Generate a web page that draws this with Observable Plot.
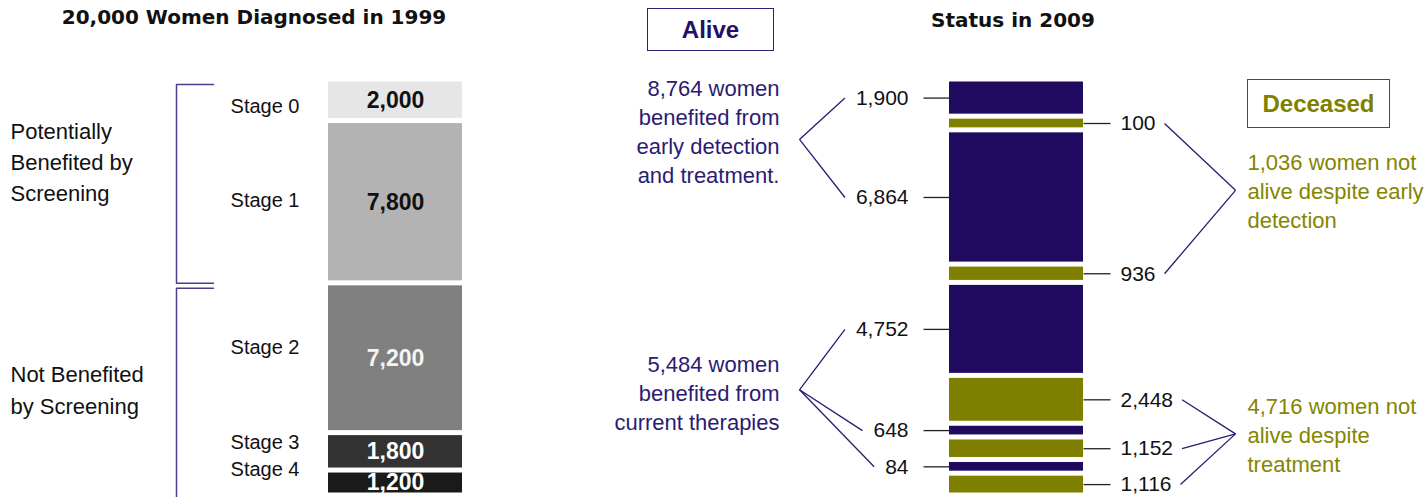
<!DOCTYPE html>
<html><head><meta charset="utf-8">
<script src="https://cdn.jsdelivr.net/npm/d3@7"></script>
<script src="https://cdn.jsdelivr.net/npm/@observablehq/plot@0.6"></script>
<style>
body{margin:0;background:#fff;}
#chart{position:relative;width:1428px;height:497px;overflow:hidden;font-family:"Liberation Sans",Arial,sans-serif;background:#fff;}
#chart svg{position:absolute;left:0;top:0;}
.title{position:absolute;font-family:"DejaVu Sans",sans-serif;font-weight:bold;font-size:20px;color:#111;white-space:nowrap;transform:translate(-50%,-50%);}
.box{position:absolute;box-sizing:border-box;display:flex;align-items:center;justify-content:center;font-family:"Liberation Sans",Arial,sans-serif;font-weight:bold;font-size:24px;background:#fff;}
</style></head><body><div id="chart"></div>
<script>
// ---------------- data ----------------
const stages = ["Stage 0", "Stage 1", "Stage 2", "Stage 3", "Stage 4"];
const diagnosed1999 = [2000, 7800, 7200, 1800, 1200];
const stageGroup = [0, 0, 1, 1, 1];
const groupNames = ["Potentially\nBenefited by\nScreening", "Not Benefited\nby Screening"];
const segmentStage = [0, 0, 1, 1, 2, 2, 3, 3, 4, 4];
const status2009 = ["Alive", "Deceased", "Alive", "Deceased", "Alive", "Deceased", "Alive", "Deceased", "Alive", "Deceased"];
const women2009 = [1900, 100, 6864, 936, 4752, 2448, 648, 1152, 84, 1116];
const statusNames = ["Alive", "Deceased"];
const aliveNotes = ["{n} women\nbenefited from\nearly detection\nand treatment.", "{n} women\nbenefited from\ncurrent therapies"];
const deceasedNotes = ["{n} women not\nalive despite early\ndetection", "{n} women not\nalive despite\ntreatment"];
const titleTexts = ["{n} Women Diagnosed in 1999", "Status in 2009"];

// ---------------- layout & style ----------------
const W = 1428, H = 497;
const stageFill = ["#e6e6e6", "#b3b3b3", "#808080", "#333333", "#1a1a1a"];
const stageInk = ["#111", "#111", "#f4f4f4", "#fff", "#fff"];
const statusFill = {Alive: "#200a60", Deceased: "#808000"};
const noteInk = {Alive: "#2b1b72", Deceased: "#858500"};
const LINK = "#2a1a72";
const BAR1 = {x1: 328, x2: 462}, BAR2 = {x1: 949, x2: 1083};
const MIN_SHOWN = 700;      // minimum visible share so tiny segments remain readable
const APEX_SHIFT = 0.02;
const GROUP_DY = [-24, -4];
const STAGE_DY = [6, -2, -11, -9, -13];
const NOTE_DY = {Alive: [-9, 2], Deceased: [-1, 0]};
const fmt = d3.format(",");

function stack(values) {
  const shown = values.map(v => Math.max(v, MIN_SHOWN));
  const total = d3.sum(shown);
  let acc = 0;
  return values.map((v, i) => {
    const y1 = acc / total; acc += shown[i]; const y2 = acc / total;
    return {i, value: v, y1, y2, ym: (y1 + y2) / 2};
  });
}

const left = stack(diagnosed1999).map(d => ({...d, stage: stages[d.i], group: stageGroup[d.i], fill: stageFill[d.i], ink: stageInk[d.i]}));
const right = stack(women2009).map(d => ({...d, status: status2009[d.i], group: stageGroup[segmentStage[d.i]], fill: statusFill[status2009[d.i]]}));
const alive = right.filter(d => d.status === "Alive");
const dead = right.filter(d => d.status === "Deceased");

const ctx = document.createElement("canvas").getContext("2d");
ctx.font = '21px "Liberation Sans"';
const tw = s => ctx.measureText(s).width;

// brackets and group labels
const groups = groupNames.map((name, g) => {
  const segs = left.filter(d => d.group === g);
  return {g, name, top: segs[0].y1 + 0.012, bottom: segs[segs.length - 1].y2 + (g === 1 ? 0.02 : 0)};
});
const bracketPts = groups.flatMap(b => [
  {g: b.g, x: 213, y: b.top}, {g: b.g, x: 176, y: b.top},
  {g: b.g, x: 176, y: b.bottom}, {g: b.g, x: 213, y: b.bottom}
]);

// connectors and notes
const links = [], notes = [];
for (const s of statusNames) {
  for (const g of [0, 1]) {
    const segs = right.filter(d => d.status === s && d.group === g);
    const ys = segs.map(d => d.ym);
    const apexY = (d3.min(ys) + d3.max(ys)) / 2 - APEX_SHIFT;
    const apexX = s === "Alive" ? 799 : 1235;
    for (const d of segs) {
      const lab = fmt(d.value);
      const ex = s === "Alive" ? 908 - tw(lab) - 11 : 1120 + tw(lab) + 9;
      links.push({x1: ex, y1: d.ym, x2: apexX, y2: apexY});
    }
    const n = d3.sum(segs, d => d.value);
    const tpl = (s === "Alive" ? aliveNotes : deceasedNotes)[g];
    notes.push({
      status: s, g, x: s === "Alive" ? apexX - 20 : apexX + 12, y: apexY,
      text: tpl.replace("{n}", fmt(n)), anchor: s === "Alive" ? "end" : "start"
    });
  }
}

const marks = [
  Plot.rect(left, {x1: BAR1.x1, x2: BAR1.x2, y1: "y1", y2: "y2", fill: d => d.fill, insetTop: 2.5, insetBottom: 2.5}),
  Plot.text(left, {x: (BAR1.x1 + BAR1.x2) / 2, y: "ym", text: d => fmt(d.value), fill: d => d.ink, fontSize: 23, fontWeight: "bold"}),
  ...left.map(d => Plot.text([d], {x: 299, y: "ym", text: "stage", textAnchor: "end", fontSize: 20, fill: "#111", dy: STAGE_DY[d.i]})),
  Plot.line(bracketPts, {x: "x", y: "y", z: "g", stroke: "#4b3d8f", strokeWidth: 1.5}),
  ...groups.map(b => Plot.text([b], {x: 10, y: d => (d.top + Math.min(d.bottom, 1)) / 2, text: "name", textAnchor: "start", fontSize: 22, lineHeight: 1.42, fill: "#111", dy: GROUP_DY[b.g]})),
  Plot.rect(right, {x1: BAR2.x1, x2: BAR2.x2, y1: "y1", y2: "y2", fill: d => d.fill, insetTop: 2.5, insetBottom: 2.5}),
  Plot.link(alive, {x1: 923, x2: BAR2.x1, y1: "ym", y2: "ym", stroke: "#222", strokeWidth: 1.3}),
  Plot.link(dead, {x1: BAR2.x2, x2: 1110, y1: "ym", y2: "ym", stroke: "#222", strokeWidth: 1.3}),
  Plot.text(alive, {x: 908, y: "ym", text: d => fmt(d.value), textAnchor: "end", fontSize: 21, fill: "#111"}),
  Plot.text(dead, {x: 1120, y: "ym", text: d => fmt(d.value), textAnchor: "start", fontSize: 21, fill: "#111"}),
  Plot.link(links, {x1: "x1", y1: "y1", x2: "x2", y2: "y2", stroke: LINK, strokeWidth: 1.3}),
  ...notes.map(n => Plot.text([n], {x: "x", y: "y", text: "text", textAnchor: n.anchor, fill: noteInk[n.status], fontSize: 22, lineHeight: 1.32, dy: NOTE_DY[n.status][n.g]}))
];

const plot = Plot.plot({
  width: W, height: H, margin: 0,
  x: {type: "linear", domain: [0, W], range: [0, W], axis: null},
  y: {type: "linear", domain: [0, 1], range: [79, 495], axis: null},
  color: {type: "identity"},
  style: {fontFamily: '"Liberation Sans", Arial, sans-serif', background: "transparent", overflow: "visible"},
  marks
});

const chart = document.getElementById("chart");
chart.appendChild(plot);

// titles
const t1 = document.createElement("div");
t1.className = "title"; t1.textContent = titleTexts[0].replace("{n}", fmt(d3.sum(diagnosed1999)));
t1.style.left = "254px"; t1.style.top = "17px";
chart.appendChild(t1);
const t2 = document.createElement("div");
t2.className = "title"; t2.textContent = titleTexts[1];
t2.style.left = "1013px"; t2.style.top = "20px";
chart.appendChild(t2);

// legend boxes
const boxes = [
  {name: statusNames[0], left: 647, top: 8, w: 127, h: 43, border: "#2e1f78", ink: "#221166"},
  {name: statusNames[1], left: 1247, top: 79, w: 143, h: 49, border: "#4a3f8c", ink: "#7f7f00"}
];
for (const b of boxes) {
  const el = document.createElement("div");
  el.className = "box"; el.textContent = b.name;
  Object.assign(el.style, {left: b.left + "px", top: b.top + "px", width: b.w + "px", height: b.h + "px", border: "1.6px solid " + b.border, color: b.ink});
  chart.appendChild(el);
}
</script></body></html>
